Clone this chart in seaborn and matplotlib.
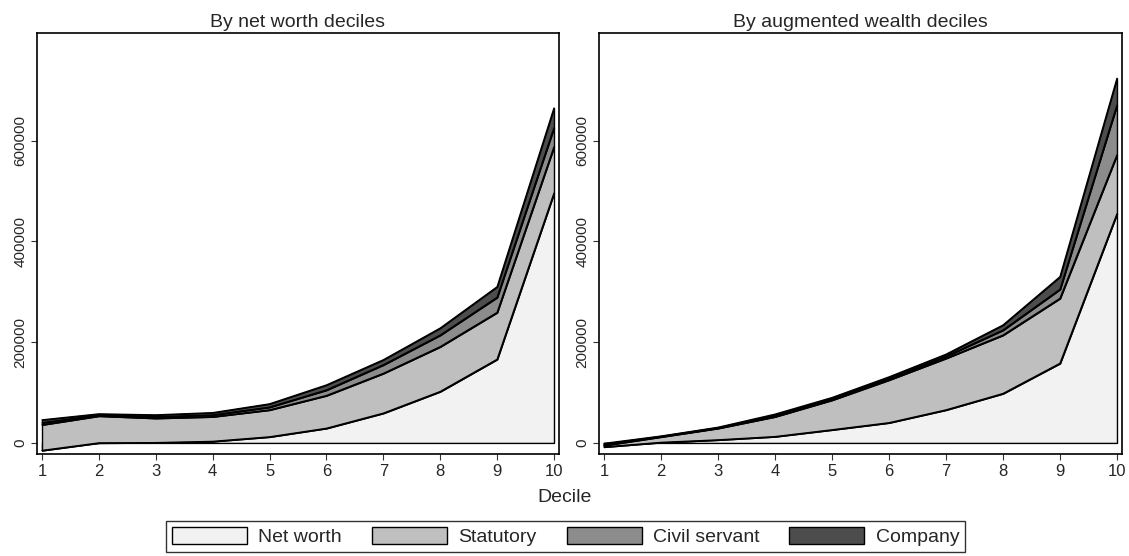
import numpy as np
import matplotlib
matplotlib.use("Agg")
import matplotlib.pyplot as plt
import seaborn as sns
from matplotlib.patches import Patch
from matplotlib.ticker import FuncFormatter

deciles = [1, 2, 3, 4, 5, 6, 7, 8, 9, 10]
layers = ["Net worth", "Statutory", "Civil servant", "Company"]
colors = ["#f2f2f2", "#bfbfbf", "#8c8c8c", "#4d4d4d"]
panel_titles = ["By net worth deciles", "By augmented wealth deciles"]

# by net worth deciles
nw_networth = [-15000, 0, 500, 3000, 12000, 29000, 59000, 102000, 166000, 496000]
nw_statutory = [51000, 53500, 48500, 49000, 53500, 65000, 79000, 89000, 93000, 92000]
nw_civil = [4000, 2000, 3000, 3500, 5500, 11000, 17000, 23000, 30000, 38000]
nw_company = [5700, 2100, 3600, 4500, 6500, 10000, 10000, 14000, 21000, 39000]

# by augmented wealth deciles
aw_networth = [-8000, 1000, 6000, 12500, 26000, 40000, 65500, 98000, 158000, 455000]
aw_statutory = [3000, 11000, 23000, 39500, 59000, 85000, 102500, 116000, 129000, 117000]
aw_civil = [2000, 1000, 1000, 2000, 2000, 3000, 4000, 10000, 18000, 99000]
aw_company = [2000, 500, 1000, 3000, 3000, 3000, 4000, 10000, 25000, 53000]

yticks = [0, 200000, 400000, 600000]

sns.set_theme(style="ticks")
plt.rcParams['font.family'] = ['Liberation Sans', 'DejaVu Sans']

fig = plt.figure(figsize=(11.29, 5.56), dpi=100)
ax1 = fig.add_axes([37 / 1129, 102 / 556, 522 / 1129, 421 / 556])
ax2 = fig.add_axes([599 / 1129, 102 / 556, 523 / 1129, 421 / 556])


def draw_panel(ax, parts, title):
    x = np.array(deciles)
    lower = np.zeros(len(x))
    for i, (vals, col) in enumerate(zip(parts, colors)):
        # net worth is drawn from zero, the rest are stacked on top of it
        upper = np.array(vals, dtype=float) if i == 0 else lower + np.array(vals)
        ax.fill_between(x, lower, upper, facecolor=col, edgecolor="black", linewidth=1.0)
        sns.lineplot(x=x, y=upper, ax=ax, color="black", linewidth=1.0)
        lower = upper
    ax.set_xlim(0.912, 10.088)
    ax.set_ylim(-22000, 814000)
    ax.set_xticks(deciles)
    ax.set_yticks(yticks)
    ax.yaxis.set_major_formatter(FuncFormatter(lambda v, p: f"{int(v)}"))
    ax.tick_params(axis="y", labelsize=11, length=4, width=0.8, color="#333333", pad=3)
    ax.tick_params(axis="x", labelsize=12, length=4, width=0.8, color="#333333", pad=3)
    for lab in ax.get_yticklabels():
        lab.set_rotation(90)
        lab.set_va("center")
    for sp in ax.spines.values():
        sp.set_visible(True)
        sp.set_color("black")
        sp.set_linewidth(1.2)
    ax.set_title(title, fontsize=14, pad=4)
    ax.set_xlabel("")
    ax.set_ylabel("")


draw_panel(ax1, [nw_networth, nw_statutory, nw_civil, nw_company], panel_titles[0])
draw_panel(ax2, [aw_networth, aw_statutory, aw_civil, aw_company], panel_titles[1])

fig.text(565 / 1129, 1 - 497 / 556, "Decile", ha="center", va="center", fontsize=14)

handles = [Patch(facecolor=c, edgecolor="black", linewidth=1.0) for c in colors]
leg = fig.legend(handles, layers, loc="lower center", bbox_to_anchor=(0.501, 0.0),
                 ncol=4, fontsize=14, frameon=True, fancybox=False, edgecolor="black",
                 handlelength=3.86, handleheight=0.98, handletextpad=0.57,
                 columnspacing=1.55, borderpad=0.3, borderaxespad=0.2)
leg.get_frame().set_linewidth(1.0)

fig.savefig("out.png", dpi=100, facecolor="white")
